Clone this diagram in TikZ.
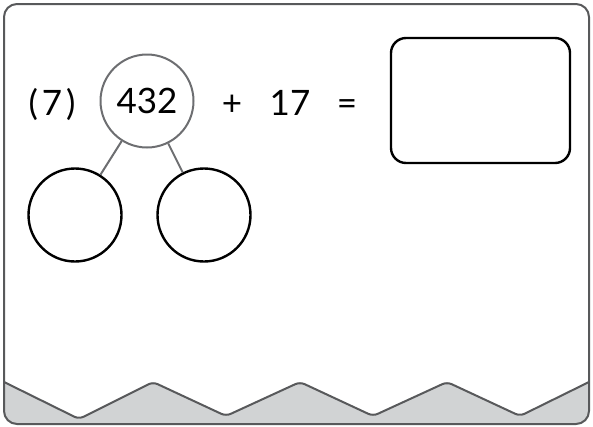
\documentclass[tikz,border=0pt]{standalone}
\usepackage{fontspec}
\setmainfont{Lato}
\usetikzlibrary{positioning}
\definecolor{framegray}{HTML}{58595B}
\definecolor{zonegray}{HTML}{D1D3D4}
\definecolor{stemgray}{HTML}{6D6E71}

\begin{document}
\begin{tikzpicture}[x=1pt,y=-1pt,
  bubble/.style={circle,draw=black,line width=2.4pt,minimum size=93pt,inner sep=0pt},
  topbubble/.style={bubble,draw=stemgray,line width=2pt,font=\fontsize{35}{40}\selectfont},
  answer/.style={rounded corners=15pt,draw=black,line width=2.4pt,minimum width=179pt,minimum height=125pt},
  num/.style={anchor=base,inner sep=0pt,font=\fontsize{35}{40}\selectfont},
  stem/.style={draw=stemgray,line width=2pt}
]
\useasboundingbox (0,0) rectangle (593,426);
% grey strip at the bottom
\begin{scope}
\clip[rounded corners=13pt] (4,4) rectangle (589,424);
\fill[zonegray] (0,380) -- (79,419) -- (153,382) -- (226,416) -- (300,382) -- (373,416)
  -- (447,382) -- (520,416) -- (593,380) -- (593,430) -- (0,430) -- cycle;
\draw[framegray,line width=2pt,rounded corners=5pt] (0,380) -- (79,419) -- (153,382) -- (226,416) -- (300,382)
  -- (373,416) -- (447,382) -- (520,416) -- (593,380);
\end{scope}
\draw[framegray,line width=2pt,rounded corners=13pt] (4,4) rectangle (589,424);

% number bond
\node[topbubble] (whole) at (147,101) {432};
\node[bubble] (partl) at (75,215) {};
\node[bubble] (partr) at (204,215) {};
\draw[stem] (whole) -- (partl);
\draw[stem] (whole) -- (partr);

\node[num] (qnum) at (52,115) {(\hspace{4pt}7\hspace{4pt})};
\node[num] (plus) at (232,115) {+};
\node[num] (addend) at (290,115) {17};
\node[num] (eq) at (347,115) {=};
\node[answer] (ans) at (480.5,100.5) {};
\end{tikzpicture}
\end{document}
